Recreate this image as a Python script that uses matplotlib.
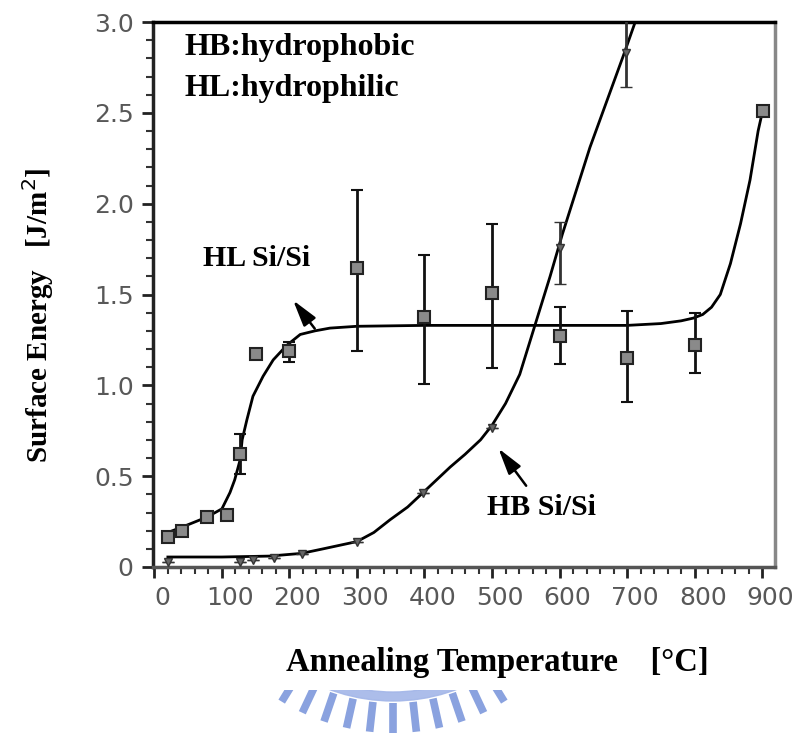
import matplotlib.pyplot as plt
import numpy as np
from matplotlib.ticker import MultipleLocator
from matplotlib.transforms import ScaledTranslation
from matplotlib.patches import Wedge

# surface energy vs annealing temperature, hydrophilic (HL) and hydrophobic (HB) Si/Si

# HL measured points (squares) with error bars
hl_T = [20, 41, 78, 107, 127, 150, 199, 300, 400, 500, 600, 700, 800, 901]
hl_E = [0.165, 0.20, 0.275, 0.285, 0.62, 1.17, 1.19, 1.645, 1.376, 1.51, 1.27, 1.15, 1.22, 2.51]
hl_lo = [0.165, 0.20, 0.275, 0.285, 0.51, 1.17, 1.13, 1.19, 1.01, 1.095, 1.12, 0.91, 1.07, 2.51]
hl_hi = [0.165, 0.20, 0.275, 0.285, 0.73, 1.17, 1.24, 2.075, 1.72, 1.89, 1.43, 1.41, 1.40, 2.51]

# HB measured points with error bars
hb_T = [20, 127, 146, 177, 218, 300, 398, 500, 601, 699]
hb_E = [0.03, 0.03, 0.04, 0.05, 0.07, 0.14, 0.41, 0.765, 1.755, 2.83]
hb_lo = [0.03, 0.03, 0.04, 0.05, 0.07, 0.14, 0.41, 0.765, 1.56, 2.64]
hb_hi = [0.03, 0.03, 0.04, 0.05, 0.07, 0.14, 0.41, 0.765, 1.90, 3.05]

# fitted curves
hl_fit_T = [18, 48, 78, 100, 112, 119, 127, 130, 137, 146, 161, 176, 196, 216, 238, 260,
            300, 400, 500, 600, 700, 750, 780, 798, 812, 825, 838, 853, 868, 882, 894, 900]
hl_fit_E = [0.187, 0.23, 0.275, 0.32, 0.41, 0.48, 0.59, 0.70, 0.81, 0.94, 1.05, 1.14, 1.22, 1.28, 1.30, 1.315,
            1.325, 1.33, 1.33, 1.33, 1.33, 1.34, 1.355, 1.37, 1.39, 1.43, 1.50, 1.67, 1.89, 2.13, 2.40, 2.50]
hb_fit_T = [20, 100, 170, 218, 250, 275, 300, 325, 349, 375, 398, 438, 460, 483, 500, 520, 541,
            561, 586, 604, 645, 694, 712]
hb_fit_E = [0.055, 0.055, 0.06, 0.075, 0.10, 0.12, 0.14, 0.19, 0.26, 0.33, 0.41, 0.55, 0.62, 0.70,
            0.78, 0.90, 1.06, 1.30, 1.60, 1.83, 2.31, 2.81, 3.0]

xticks = [0, 100, 200, 300, 400, 500, 600, 700, 800, 900]
yticks = [0, 0.5, 1.0, 1.5, 2.0, 2.5, 3.0]
ytick_labels = ['0', '0.5', '1.0', '1.5', '2.0', '2.5', '3.0']

serif = 'Liberation Serif'
tickgray = '#585858'

fig = plt.figure(figsize=(8.06, 7.36), dpi=100)

# faint watermark behind everything (pixel coords)
bg = fig.add_axes([0, 0, 1, 1], zorder=-5)
bg.set_xlim(0, 806)
bg.set_ylim(736, 0)
bg.axis('off')
cx, cy = 393, 520
clip = plt.Rectangle((0, 690), 806, 50, transform=bg.transData)
ring = Wedge((cx, cy), 181, 20, 160, width=9, color='#a3b6e8', alpha=0.9)
bg.add_patch(ring)
ring.set_clip_path(clip)
for a in np.arange(90 - 6.3 * 5, 90 + 6.3 * 5.5, 6.3):
    t = np.deg2rad(a)
    r0, r1 = 183, 213
    ln, = bg.plot([cx + r0 * np.cos(t), cx + r1 * np.cos(t)],
                  [cy + r0 * np.sin(t), cy + r1 * np.sin(t)],
                  color='#8aa2df', lw=5.5, solid_capstyle='butt')
    ln.set_clip_path(clip)

ax = fig.add_axes([153 / 806, 1 - 567 / 736, (775 - 153) / 806, (567 - 22) / 736])
ax.set_xlim(-2, 919)
ax.set_ylim(0, 3.0)

ax.plot(hl_fit_T, hl_fit_E, color='black', lw=2)
ax.plot(hb_fit_T, hb_fit_E, color='black', lw=2)

hl_err = [np.array(hl_E) - np.array(hl_lo), np.array(hl_hi) - np.array(hl_E)]
ax.errorbar(hl_T, hl_E, yerr=hl_err, fmt='s', ms=8, mfc='#8a8a8a', mec='#222222', mew=1.5,
            ecolor='#111111', elinewidth=2, capsize=4.5, capthick=2, zorder=3)
hb_err = [np.array(hb_E) - np.array(hb_lo), np.array(hb_hi) - np.array(hb_E)]
ax.errorbar(hb_T, hb_E, yerr=hb_err, fmt='v', ms=6, mfc='#666666', mec='#333333', mew=1,
            ecolor='#333333', elinewidth=2, capsize=4.5, capthick=2, zorder=3)

ax.text(0.051, 0.980, 'HB:hydrophobic', transform=ax.transAxes, fontsize=23,
        family=serif, fontweight='bold', va='top', ha='left')
ax.text(0.051, 0.904, 'HL:hydrophilic', transform=ax.transAxes, fontsize=23,
        family=serif, fontweight='bold', va='top', ha='left')

ax.text(152, 1.70, 'HL Si/Si', fontsize=21.5, family=serif, fontweight='bold', ha='center', va='center')
ax.text(573, 0.325, 'HB Si/Si', fontsize=21.5, family=serif, fontweight='bold', ha='center', va='center')

ax.annotate('', xy=(203, 1.48), xytext=(240, 1.30),
            arrowprops=dict(arrowstyle='-|>,head_length=1.6,head_width=0.45', color='black', lw=1.8))
ax.annotate('', xy=(507, 0.665), xytext=(553, 0.435),
            arrowprops=dict(arrowstyle='-|>,head_length=1.6,head_width=0.45', color='black', lw=1.8))

ax.set_xticks(xticks)
ax.set_yticks(yticks)
ax.set_yticklabels(ytick_labels)
ax.xaxis.set_minor_locator(MultipleLocator(20))
ax.yaxis.set_minor_locator(MultipleLocator(0.1))
ax.tick_params(which='major', direction='out', length=8, width=2, labelsize=18,
               labelcolor=tickgray, color='#222222', pad=6)
ax.tick_params(which='minor', direction='out', length=5, width=1.5, color='#333333')
for lab in ax.get_xticklabels():
    lab.set_transform(lab.get_transform() + ScaledTranslation(8 / 100, 0, fig.dpi_scale_trans))

ax.spines['top'].set_linewidth(2.5)
ax.spines['left'].set_linewidth(2.5)
ax.spines['left'].set_color('#222222')
ax.spines['bottom'].set_linewidth(2.5)
ax.spines['bottom'].set_color('#555555')
ax.spines['right'].set_linewidth(2.5)
ax.spines['right'].set_color('#888888')

fig.text(497 / 806, 1 - 663 / 736, 'Annealing Temperature    [\u00b0C]', fontsize=23.5,
         family=serif, fontweight='bold', ha='center', va='center')
fig.text(38 / 806, 1 - 315 / 736, 'Surface Energy   [J/m$^2$]', fontsize=21, rotation=90,
         family=serif, fontweight='bold', ha='center', va='center')

plt.savefig('out.png', dpi=100)
